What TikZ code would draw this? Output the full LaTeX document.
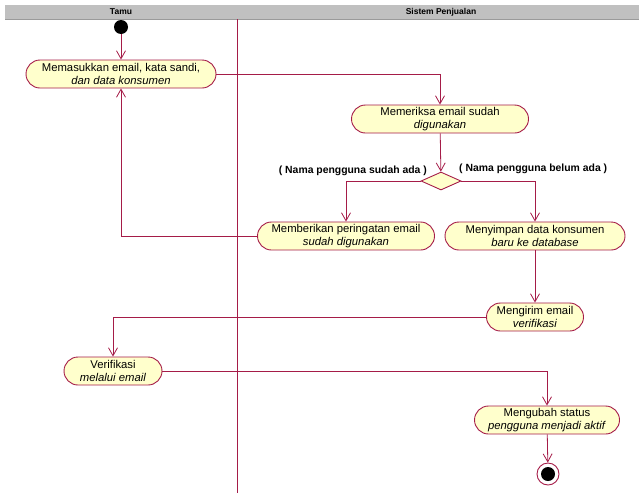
\documentclass[tikz,border=0pt]{standalone}
\usepackage{fontspec}
\setmainfont{Liberation Sans}
\usetikzlibrary{arrows.meta,shapes.geometric}
\definecolor{umlline}{RGB}{165,28,72}
\definecolor{umlfill}{RGB}{255,255,204}
\definecolor{laneband}{RGB}{192,192,192}
\tikzset{
  activity/.style={draw=umlline, fill=umlfill, line width=0.9pt,
    rounded corners=14pt, minimum height=28pt, inner sep=0pt,
    align=center, font=\fontsize{11.3}{12.6}\selectfont},
  flow/.style={draw=umlline, line width=0.8pt,
    -{Straight Barb[length=8pt,width=9pt,line width=0.8pt]}},
  link/.style={draw=umlline, line width=0.8pt},
  guard/.style={font=\fontsize{10.4}{12}\selectfont\bfseries, inner sep=0pt},
  lanetitle/.style={font=\fontsize{8.5}{10}\selectfont\bfseries, inner sep=0pt}
}
\begin{document}
\begin{tikzpicture}[x=1pt,y=-1pt]
\useasboundingbox (0,0) rectangle (639,493);
% swimlane header and divider
\fill[laneband] (5,5) rectangle (639,19);
\draw[laneband!80!black, line width=0.5pt] (5,19) -- (639,19);
\node[lanetitle] (tamu) at (121,12) {Tamu};
\node[lanetitle] (sistem) at (441,12) {Sistem Penjualan};
\coordinate (laneTop) at (237,19);
\coordinate (laneBot) at (237,493);
\draw[link] (laneTop) -- (laneBot);

% start and end
\node[circle, fill=black, minimum size=14pt, inner sep=0pt] (start) at (121,27) {};
\node[circle, draw=umlline, fill=white, line width=0.9pt, minimum size=22pt, inner sep=0pt] (stop) at (548,474) {};
\node[circle, fill=black, minimum size=14pt, inner sep=0pt] (stopdot) at (548,474) {};

% activities
\node[activity, minimum width=190pt] (a1) at (121,74) {Memasukkan email, kata sandi,\\\textit{dan data konsumen}};
\node[activity, minimum width=177pt] (a2) at (440,119) {Memeriksa email sudah\\\textit{digunakan}};
\node[diamond, draw=umlline, fill=umlfill, line width=0.9pt, minimum width=40pt, minimum height=18pt, inner sep=0pt] (d) at (441,181) {};
\node[activity, minimum width=177pt] (a3) at (346,236) {Memberikan peringatan email\\\textit{sudah digunakan}};
\node[activity, minimum width=180pt] (a4) at (535,236) {Menyimpan data konsumen\\\textit{baru ke database}};
\node[activity, minimum width=97pt] (a5) at (535,317) {Mengirim email\\\textit{verifikasi}};
\node[activity, minimum width=98pt] (a6) at (113,371) {Verifikasi\\\textit{melalui email}};
\node[activity, minimum width=145pt] (a7) at (547,420) {Mengubah status\\\textit{pengguna menjadi aktif}};

% guards
\node[guard, anchor=east] (g1) at (427,171) {( Nama pengguna sudah ada )};
\node[guard, anchor=west] (g2) at (459,169) {( Nama pengguna belum ada )};

% flows
\draw[flow] (start) -- (a1);
\draw[flow] (a1.east) -| (a2.north);
\draw[flow] (a2) -- (d);
\draw[flow] (d.west) -| (a3.north);
\draw[flow] (d.east) -| (a4.north);
\draw[flow] (a3.west) -| (a1.south);
\draw[flow] (a4) -- (a5);
\draw[flow] (a5.west) -| (a6.north);
\draw[flow] (a6.east) -| (a7.north);
\draw[flow] (a7) -- (stop);
\end{tikzpicture}
\end{document}
